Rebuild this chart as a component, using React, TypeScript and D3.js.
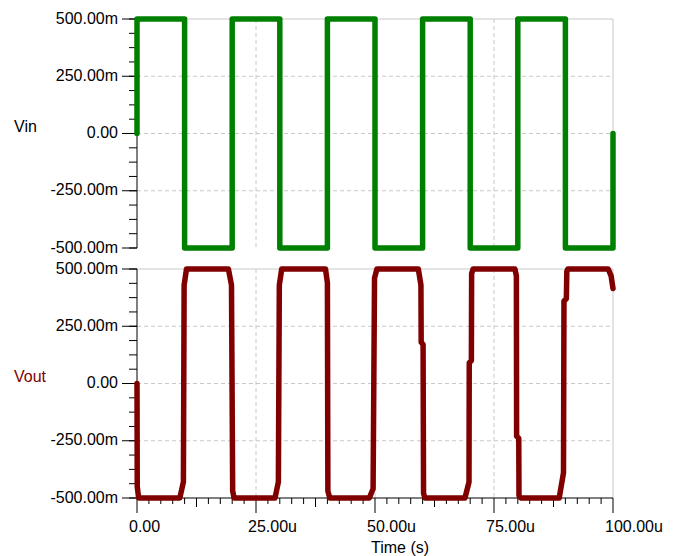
import React from "react";
import * as d3 from "d3";

// Time in microseconds, voltage in millivolts
const vinTime = [0, 0, 10, 10, 20, 20, 30, 30, 40, 40, 50, 50, 60, 60, 70, 70, 80, 80, 90, 90, 100, 100];
const vinValue = [0, 500, 500, -500, -500, 500, 500, -500, -500, 500, 500, -500, -500, 500, 500, -500, -500, 500, 500, -500, -500, 0];

const voutTime = [
  0, 0.05, 0.35,
  9.0, 9.75, 9.9, 10.4,
  19.2, 19.85, 20.1, 20.4,
  29.0, 29.7, 29.9, 30.4,
  39.6, 40.0, 40.1, 40.5,
  48.8, 49.6, 49.9, 50.4,
  59.1, 59.65, 59.7, 60.1, 60.2, 60.5,
  68.9, 69.75, 69.8, 70.25, 70.3, 70.6,
  79.4, 79.7, 79.75, 80.2, 80.25, 80.6,
  88.7, 89.6, 89.7, 90.2, 90.3, 90.5,
  99.0, 99.6, 100,
];
const voutValue = [
  0, -450, -500,
  -500, -430, 430, 500,
  500, 430, -470, -500,
  -500, -430, 430, 500,
  500, 440, -470, -500,
  -500, -460, 460, 500,
  500, 430, 180, 170, -480, -500,
  -500, -430, 90, 100, 480, 500,
  500, 470, -230, -240, -490, -500,
  -500, -390, 360, 370, 490, 500,
  500, 470, 415,
];

const yMajorTicks = [500, 250, 0, -250, -500];
const xMajorTicks = [0, 25, 50, 75, 100];
const yMinorStep = 62.5;
const xMinorStep = 2.5;

const W = 673;
const H = 556;
const FONT = "'Liberation Sans', Arial, sans-serif";
const GREEN = "#008000";
const RED = "#800000";
const GRID = "#c8c8c8";

const fmtV = (v: number) => (v === 0 ? "0.00" : `${v.toFixed(2)}m`);
const fmtT = (t: number) => (t === 0 ? "0.00" : `${t.toFixed(2)}u`);

export default function App() {
  const x = d3.scaleLinear().domain([0, 100]).range([137, 613]);
  const yTop = d3.scaleLinear().domain([-500, 500]).range([248, 19]);
  const yBot = d3.scaleLinear().domain([-500, 500]).range([498, 269]);

  const yMinor = d3.range(-500, 500 + 0.001, yMinorStep);
  const xMinor = d3.range(0, 100 + 0.001, xMinorStep);

  const vinPts: [number, number][] = vinTime.map((t, i) => [t, vinValue[i]]);
  const voutPts: [number, number][] = voutTime.map((t, i) => [t, voutValue[i]]);

  const lineTop = d3.line<[number, number]>().x((d) => x(d[0])).y((d) => yTop(d[1]));
  const lineBot = d3.line<[number, number]>().x((d) => x(d[0])).y((d) => yBot(d[1]));

  const panel = (y: d3.ScaleLinear<number, number>, key: string, bottom: boolean) => {
    const [y0, y1] = [y(-500), y(500)];
    return (
      <g key={key}>
        {yMajorTicks.filter((v) => v !== 500 && v !== -500).map((v) => (
          <line key={"gy" + v} x1={x(0)} x2={x(100)} y1={y(v)} y2={y(v)} stroke={GRID} strokeDasharray="4,3" strokeWidth={1} />
        ))}
        {xMajorTicks.filter((t) => t !== 0 && t !== 100).map((t) => (
          <line key={"gx" + t} x1={x(t)} x2={x(t)} y1={y1} y2={y0} stroke={GRID} strokeDasharray="4,3" strokeWidth={1} />
        ))}
        <line x1={x(0)} x2={x(100)} y1={y1} y2={y1} stroke={GRID} strokeWidth={1} />
        <line x1={x(100)} x2={x(100)} y1={y1} y2={y0} stroke={GRID} strokeWidth={1} />
        <line x1={x(0)} x2={x(0)} y1={y1} y2={y0} stroke="#000" strokeWidth={1} />
        {yMinor.map((v) => (
          <line key={"ym" + v} x1={x(0) - 8} x2={x(0)} y1={y(v)} y2={y(v)} stroke="#000" strokeWidth={1} />
        ))}
        {yMajorTicks.map((v) => (
          <g key={"yt" + v}>
            <line x1={x(0) - 15} x2={x(0)} y1={y(v)} y2={y(v)} stroke="#000" strokeWidth={1} />
            <text x={118} y={y(v) + 4.5} textAnchor="end" fontFamily={FONT} fontSize={16} fill="#000">
              {fmtV(v)}
            </text>
          </g>
        ))}
        {bottom && (
          <g>
            <line x1={x(0)} x2={x(100)} y1={y0} y2={y0} stroke="#000" strokeWidth={1} />
            {xMinor.map((t) => {
              const isMajor = Math.abs(t % 25) < 1e-6;
              const isMid = Math.abs(t % 12.5) < 1e-6;
              const len = isMajor ? 15 : isMid ? 9 : 6;
              return <line key={"xm" + t} x1={x(t)} x2={x(t)} y1={y0} y2={y0 + len} stroke="#000" strokeWidth={1} />;
            })}
            {xMajorTicks.map((t) => (
              <text key={"xt" + t} x={x(t) - 8} y={532} textAnchor="start" fontFamily={FONT} fontSize={16} fill="#000">
                {fmtT(t)}
              </text>
            ))}
          </g>
        )}
      </g>
    );
  };

  return (
    <svg width={W} height={H} style={{ position: "absolute", left: 0, top: 0, background: "#fff" }}>
      <rect width={W} height={H} fill="#fff" />
      {panel(yTop, "top", false)}
      {panel(yBot, "bot", true)}
      <path d={lineTop(vinPts) ?? ""} fill="none" stroke={GREEN} strokeWidth={5.5} strokeLinejoin="round" strokeLinecap="round" />
      <path d={lineBot(voutPts) ?? ""} fill="none" stroke={RED} strokeWidth={5.5} strokeLinejoin="round" strokeLinecap="round" />
      <text x={14} y={132} fontFamily={FONT} fontSize={16} fill="#000">Vin</text>
      <text x={14} y={382} fontFamily={FONT} fontSize={16} fill={RED}>Vout</text>
      <text x={371} y={553} fontFamily={FONT} fontSize={16} fill="#000">Time (s)</text>
    </svg>
  );
}
